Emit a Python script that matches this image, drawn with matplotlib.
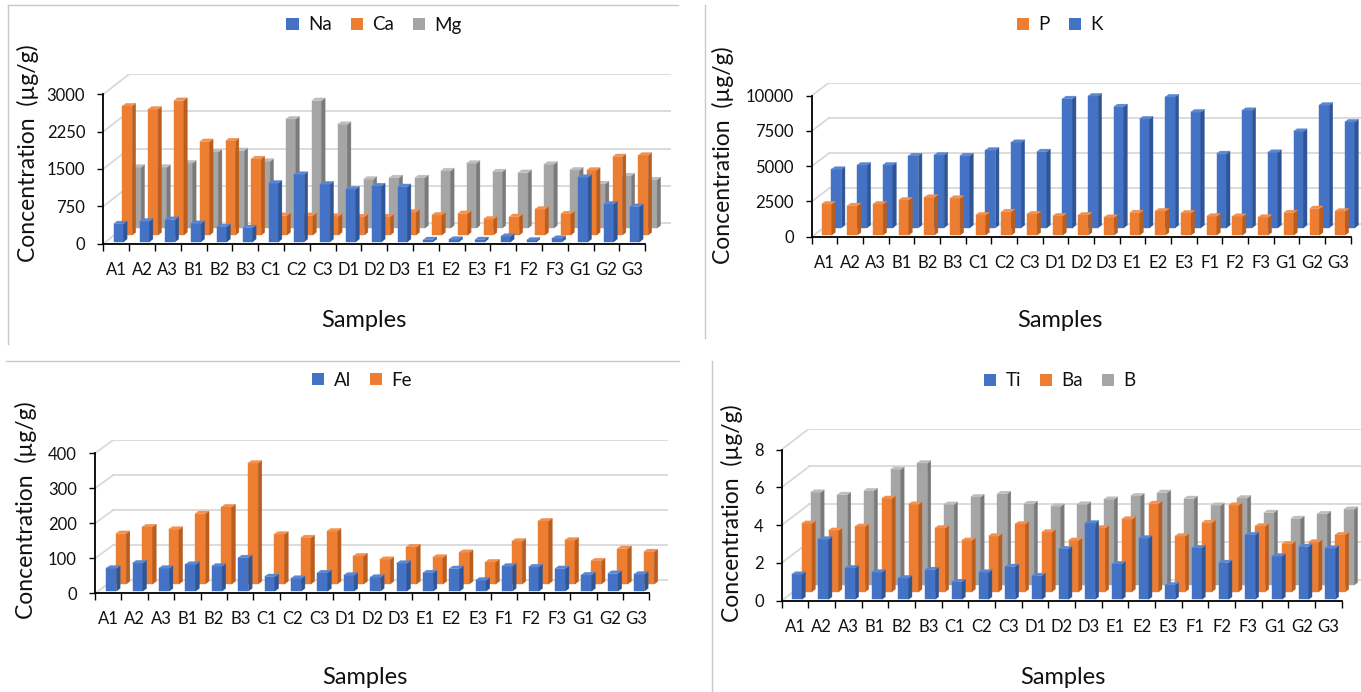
import numpy as np
import matplotlib
matplotlib.use("Agg")
import matplotlib.pyplot as plt
from matplotlib.patches import Polygon, Patch
from matplotlib.lines import Line2D

plt.rcParams['font.family'] = ['Lato', 'DejaVu Sans']

W, H = 1361, 692

samples = ['A1', 'A2', 'A3', 'B1', 'B2', 'B3', 'C1', 'C2', 'C3', 'D1', 'D2',
           'D3', 'E1', 'E2', 'E3', 'F1', 'F2', 'F3', 'G1', 'G2', 'G3']

# concentrations in ug/g
na = [360, 410, 445, 365, 300, 280, 1175, 1350, 1155, 1055, 1120, 1105,
      40, 45, 40, 105, 30, 65, 1290, 755, 705]
ca = [2590, 2525, 2700, 1875, 1890, 1530, 390, 390, 375, 365, 365, 460,
      400, 430, 318, 368, 518, 425, 1300, 1572, 1600]
mg = [1220, 1220, 1305, 1530, 1555, 1340, 2190, 2560, 2080, 980, 1010, 1010,
      1150, 1300, 1130, 1115, 1280, 1165, 890, 1050, 970]

p = [2200, 2080, 2200, 2480, 2670, 2600, 1420, 1650, 1490, 1350, 1420, 1250,
     1580, 1700, 1560, 1330, 1320, 1260, 1580, 1870, 1690]
k = [4140, 4440, 4440, 5100, 5150, 5100, 5500, 6050, 5390, 9150, 9340, 8580,
     7710, 9270, 8200, 5250, 8320, 5340, 6830, 8690, 7500]

al = [65, 80, 65, 76, 71, 95, 41, 36, 52, 45, 39, 79, 52, 64, 31, 71, 69, 64,
      46, 50, 48]
fe = [144, 163, 156, 201, 220, 345, 142, 132, 151, 80, 70, 106, 76, 90, 63,
      122, 180, 125, 66, 101, 92]

ti = [1.32, 3.18, 1.66, 1.43, 1.13, 1.57, 0.93, 1.43, 1.73, 1.25, 2.67, 4.03,
      1.87, 3.24, 0.76, 2.72, 1.94, 3.41, 2.28, 2.79, 2.70]
ba = [3.61, 3.24, 3.45, 4.93, 4.62, 3.37, 2.71, 2.94, 3.58, 3.15, 2.71, 3.37,
      3.83, 4.66, 2.94, 3.65, 4.57, 3.47, 2.53, 2.62, 3.01]
b = [4.90, 4.78, 4.98, 6.11, 6.45, 4.26, 4.66, 4.83, 4.30, 4.16, 4.27, 4.53,
     4.71, 4.89, 4.57, 4.21, 4.60, 3.83, 3.51, 3.77, 4.00]

# front / side / top shades
BLUE = ('#4472C4', '#2F5597', '#5A86D2')
ORANGE = ('#ED7D31', '#B95E1F', '#F29050')
GRAY = ('#A5A5A5', '#7A7A7A', '#BDBDBD')
GRID = '#D9D9D9'
TXT = '#111111'


def fx(x):
    return x / W


def fy(y):
    return 1 - y / H


def draw_bar(ax, xl, yb, v, w, ddx, ddy, shades):
    front, side, top = shades
    xr = xl + w
    yt = yb + v
    ax.add_patch(Polygon([(xl, yb), (xr, yb), (xr, yt), (xl, yt)],
                         closed=True, fc=front, ec=front, lw=0.3))
    ax.add_patch(Polygon([(xr, yb), (xr + ddx, yb + ddy), (xr + ddx, yt + ddy),
                          (xr, yt)], closed=True, fc=side, ec=side, lw=0.3))
    ax.add_patch(Polygon([(xl, yt), (xr, yt), (xr + ddx, yt + ddy),
                          (xl + ddx, yt + ddy)], closed=True, fc=top, ec=top,
                         lw=0.3))


def panel(fig, g, series, names, shades):
    n = len(samples)
    cw, ppv = g['cw'], g['ppv']
    dx, dy = g['back']
    dxc, dyv = dx / cw, dy / ppv
    wpx = n * cw + dx
    hpx = g['ymax'] * ppv + dy
    ax = fig.add_axes([fx(g['x0']), fy(g['y0']), wpx / W, hpx / H])
    ax.set_xlim(0, n + dxc)
    ax.set_ylim(0, g['ymax'] + dyv)
    ax.patch.set_alpha(0)

    ticks = np.arange(0, g['ymax'] + 1, g['step'])
    # back wall and side wall grid
    for t in ticks:
        ax.plot([dxc, n + dxc], [t + dyv, t + dyv], color=GRID, lw=1.3, zorder=0)
        ax.plot([0, dxc], [t, t + dyv], color=GRID, lw=1.3, zorder=0)

    # bars, back row first
    w = g['bw']
    th = g['thick']
    for r in range(len(series) - 1, -1, -1):
        f = g['rows'][r]
        for i, v in enumerate(series[r]):
            xl = i + 0.5 - w / 2 + f * dxc
            draw_bar(ax, xl, f * dyv, v, w, th * dxc, th * dyv, shades[r])

    for s in ('top', 'right'):
        ax.spines[s].set_visible(False)
    ax.spines['left'].set_bounds(0, g['ymax'])
    ax.spines['bottom'].set_bounds(0, n)
    for s in ('left', 'bottom'):
        ax.spines[s].set_color('black')
        ax.spines[s].set_linewidth(1.3)
        ax.spines[s].set_zorder(5)
    ax.set_yticks(ticks)
    ax.set_yticklabels([str(int(t)) if g['ymax'] > 10 else f'{t:g}'
                        for t in ticks])
    ax.tick_params(axis='y', length=4, width=1, pad=9, labelsize=12,
                   labelcolor=TXT)
    ax.set_xticks(np.arange(n + 1))
    ax.set_xticklabels([])
    ax.set_xticks(np.arange(n) + 0.5, minor=True)
    ax.set_xticklabels(samples, minor=True)
    ax.tick_params(axis='x', which='major', length=5, width=1)
    ax.tick_params(axis='x', which='minor', length=0, pad=13, labelsize=12,
                   labelcolor=TXT)

    fig.text(fx(g['ylab'][0]), fy(g['ylab'][1]), 'Concentration  (µg/g)',
             rotation=90, ha='center', va='center', fontsize=16.5, color=TXT)
    fig.text(fx(g['xlab'][0]), fy(g['xlab'][1]), 'Samples', ha='center',
             va='center', fontsize=17, color=TXT)
    handles = [Patch(fc=sh[0], ec='none') for sh in shades]
    fig.legend(handles, names, loc='center', ncol=len(names), frameon=False,
               bbox_to_anchor=(fx(g['leg'][0]), fy(g['leg'][1])),
               fontsize=13.5, handlelength=0.65, handleheight=0.65,
               handletextpad=0.5, columnspacing=1.0, labelcolor=TXT)
    return ax


fig = plt.figure(figsize=(W / 100, H / 100), dpi=100)

panel(fig, dict(x0=103.3, y0=243.7, cw=25.8, ppv=149.4 / 3000, ymax=3000,
                step=750, back=(26, 20.3), rows=[0.1, 0.43, 0.77], thick=0.13,
                bw=0.38, ylab=(28, 153), xlab=(364, 321), leg=(374, 25)),
      [na, ca, mg], ['Na', 'Ca', 'Mg'], [BLUE, ORANGE, GRAY])

panel(fig, dict(x0=811.7, y0=236.7, cw=25.67, ppv=141 / 10000, ymax=10000,
                step=2500, back=(17.3, 13), rows=[0.13, 0.69], thick=0.2,
                bw=0.39, ylab=(723, 155), xlab=(1060, 321), leg=(1060, 25)),
      [p, k], ['P', 'K'], [ORANGE, BLUE])

panel(fig, dict(x0=95, y0=593.3, cw=26.4, ppv=0.35, ymax=400, step=100,
                back=(18.3, 13.3), rows=[0.17, 0.7], thick=0.2, bw=0.39,
                ylab=(26, 510), xlab=(365, 677), leg=(362, 380)),
      [al, fe], ['Al', 'Fe'], [BLUE, ORANGE])

panel(fig, dict(x0=781.7, y0=600.7, cw=26.67, ppv=18.9, ymax=8, step=2,
                back=(27.6, 21), rows=[0.067, 0.43, 0.75], thick=0.12,
                bw=0.38, ylab=(732, 513), xlab=(1063, 677), leg=(1060, 381)),
      [ti, ba, b], ['Ti', 'Ba', 'B'], [BLUE, ORANGE, GRAY])

# chart frames
for (xa, ya), (xb, yb) in [((8, 5), (678, 5)), ((8, 5), (8, 344)),
                           ((705.3, 5), (705.3, 337.7)),
                           ((6, 361), (678.7, 361)),
                           ((712.3, 361), (712.3, 692))]:
    fig.add_artist(Line2D([fx(xa), fx(xb)], [fy(ya), fy(yb)], color='#C8C8C8',
                          lw=1))

fig.savefig('out.png', dpi=100)
